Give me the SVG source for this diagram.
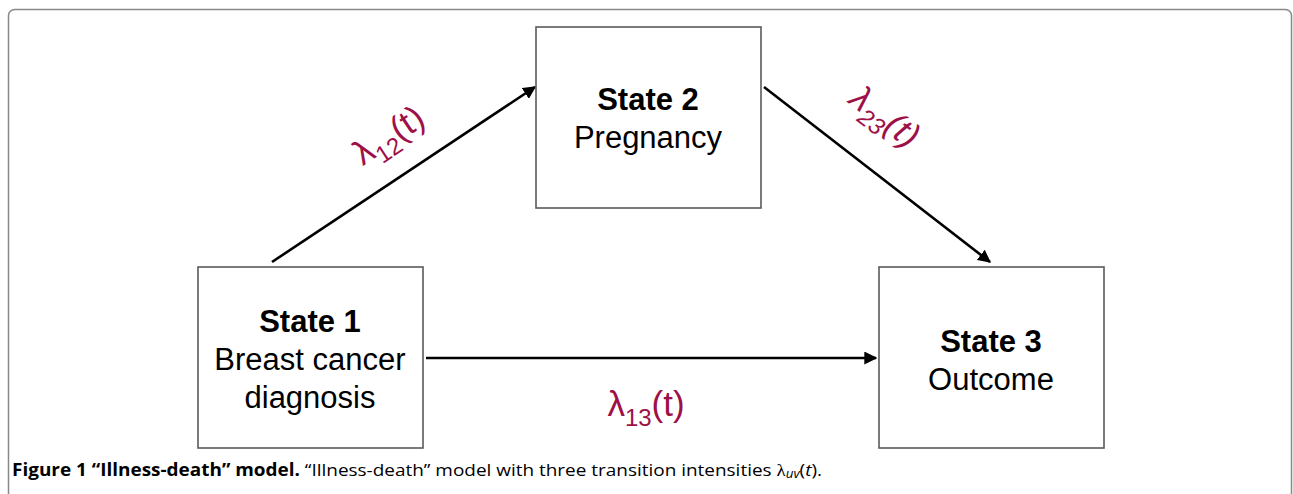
<svg xmlns="http://www.w3.org/2000/svg" width="1293" height="494" viewBox="0 0 1293 494">
<style>
.box{fill:#fff;stroke:#5a5a5a;stroke-width:1.6}
.t{font-family:"Liberation Sans",Arial,sans-serif;font-size:31px;fill:#000;text-anchor:middle}
.b{font-weight:bold}
.lab{font-family:"Liberation Sans",Arial,sans-serif;font-size:35px;fill:#9e1048}
.sub{font-size:24px}
.arr{stroke:#000;stroke-width:2.6;fill:none;marker-end:url(#ah)}
.cap{font-family:"Open Sans","Liberation Sans",sans-serif;font-size:17px;fill:#000}
</style>
<defs>
<marker id="ah" viewBox="0 0 10 10" refX="9" refY="5" markerWidth="5" markerHeight="5" orient="auto" markerUnits="strokeWidth">
<path d="M0,0 L10,5 L0,10 z" fill="#000"/>
</marker>
</defs>
<rect x="0" y="0" width="1293" height="494" fill="#fff"/>
<rect x="8.5" y="9.5" width="1283" height="520" rx="6" fill="none" stroke="#888" stroke-width="1.5"/>
<g id="connectors">
<line class="arr" x1="272" y1="262" x2="535" y2="87"/>
<line class="arr" x1="764" y1="87" x2="990" y2="262"/>
<line class="arr" x1="426" y1="358" x2="876" y2="358"/>
</g>
<g id="state1">
<rect class="box" x="198" y="267" width="225" height="181"/>
<text class="t b" x="310" y="332">State 1</text>
<text class="t" x="310" y="370">Breast cancer</text>
<text class="t" x="310" y="408">diagnosis</text>
</g>
<g id="state2">
<rect class="box" x="536" y="27" width="225" height="181"/>
<text class="t b" x="648" y="110">State 2</text>
<text class="t" x="648" y="148">Pregnancy</text>
</g>
<g id="state3">
<rect class="box" x="879" y="267" width="225" height="181"/>
<text class="t b" x="991" y="352">State 3</text>
<text class="t" x="991" y="390">Outcome</text>
</g>
<g id="labels">
<text class="lab" transform="translate(395,145) rotate(-33.6)" text-anchor="middle">λ<tspan class="sub" dy="9">12</tspan><tspan dy="-9">(t)</tspan></text>
<text class="lab" transform="translate(878,126) rotate(37.6)" text-anchor="middle" font-style="italic">λ<tspan class="sub" dy="9">23</tspan><tspan dy="-9">(t)</tspan></text>
<text class="lab" x="646" y="416" text-anchor="middle">λ<tspan class="sub" dy="10">13</tspan><tspan dy="-10">(t)</tspan></text>
</g>
<text class="cap" x="12" y="476" textLength="810" lengthAdjust="spacingAndGlyphs"><tspan font-weight="bold">Figure 1 “Illness-death” model.</tspan> “Illness-death” model with three transition intensities <tspan font-family="Liberation Serif,serif">λ</tspan><tspan font-size="12" dy="2" font-style="italic">uv</tspan><tspan dy="-2">(</tspan><tspan font-style="italic">t</tspan>).</text>
</svg>
